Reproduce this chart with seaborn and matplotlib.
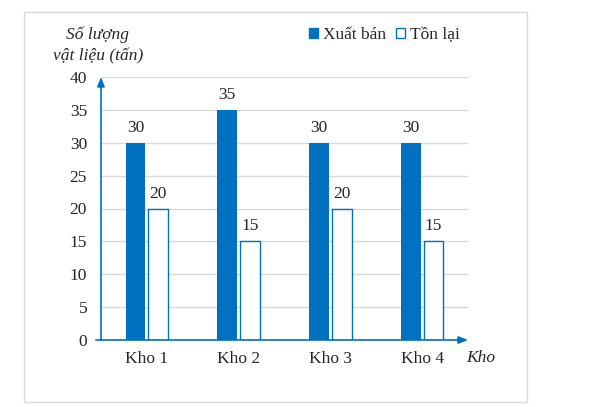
import pandas as pd
import matplotlib.pyplot as plt
import seaborn as sns
from matplotlib.patches import Patch, Rectangle

kho = ['Kho 1', 'Kho 2', 'Kho 3', 'Kho 4']
xuat_ban = [30, 35, 30, 30]
ton_lai = [20, 15, 20, 15]
y_ticks = [0, 5, 10, 15, 20, 25, 30, 35, 40]

BLUE = '#0070C0'
GRID = '#D9D9D9'

df = pd.DataFrame({
    'kho': kho * 2,
    'value': xuat_ban + ton_lai,
    'loai': ['Xuất bán'] * 4 + ['Tồn lại'] * 4,
})

sns.set_style("white")
plt.rcParams['font.family'] = ['Liberation Serif', 'DejaVu Serif']

fig = plt.figure(figsize=(5.93, 4.07), dpi=100)
ax = fig.add_axes([101 / 593, 67 / 407, 367 / 593, 263 / 407])

sns.barplot(data=df, x='kho', y='value', hue='loai', ax=ax,
            palette=[BLUE, 'white'], width=0.5, gap=0.14,
            legend=False, zorder=3)

# style bars: filled / outlined
for i, cont in enumerate(ax.containers):
    for p in cont:
        if i == 0:
            p.set_facecolor(BLUE)
            p.set_edgecolor(BLUE)
            p.set_linewidth(0)
        else:
            p.set_facecolor('white')
            p.set_edgecolor(BLUE)
            p.set_linewidth(1.0)
    ax.bar_label(cont, padding=5, fontsize=12.5)

ax.set_ylim(0, 40)
ax.set_xlim(-0.5, 3.5)
ax.set_yticks(y_ticks)
ax.yaxis.grid(True, color=GRID, lw=1, zorder=0)
ax.set_axisbelow(True)
for s in ax.spines.values():
    s.set_visible(False)

ax.tick_params(axis='y', direction='inout', length=10, width=1, color=BLUE,
               labelsize=12.5, pad=5)
ax.tick_params(axis='x', length=0, labelsize=12.5, pad=8)
ax.set_xlabel('')
ax.set_ylabel('')

# axes with arrows
arrow = dict(arrowstyle='-|>,head_length=0.55,head_width=0.22', color=BLUE,
             lw=1.2, shrinkA=0, shrinkB=0)
ax.annotate('', xy=(0, 1.0), xytext=(0, 0), xycoords='axes fraction',
            arrowprops=arrow, annotation_clip=False)
ax.annotate('', xy=(1.0, 0), xytext=(-0.014, 0), xycoords='axes fraction',
            arrowprops=arrow, annotation_clip=False)

# y axis title (two lines)
fig.text(98 / 593, 1 - 39 / 407, 'Số lượng', style='italic',
         ha='center', va='baseline', fontsize=12.5)
fig.text(98 / 593, 1 - 60 / 407, 'vật liệu (tấn)', style='italic',
         ha='center', va='baseline', fontsize=12.5)
fig.text(481 / 593, 1 - 358 / 407, 'Kho', style='italic',
         ha='center', va='center', fontsize=12.5)

handles = [Patch(facecolor=BLUE, edgecolor=BLUE, label='Xuất bán'),
           Patch(facecolor='white', edgecolor=BLUE, label='Tồn lại')]
fig.legend(handles=handles, loc='center left', ncol=2, frameon=False,
           bbox_to_anchor=(302 / 593, 1 - 35 / 407), fontsize=12.5,
           handlelength=0.5, handleheight=0.5, handletextpad=0.3,
           columnspacing=0.6, borderaxespad=0)

# outer border
fig.patches.append(Rectangle((24 / 593, 5 / 407), 503 / 593, 390 / 407,
                             transform=fig.transFigure, fill=False,
                             edgecolor=GRID, lw=1))

fig.savefig('out.png', dpi=100)
